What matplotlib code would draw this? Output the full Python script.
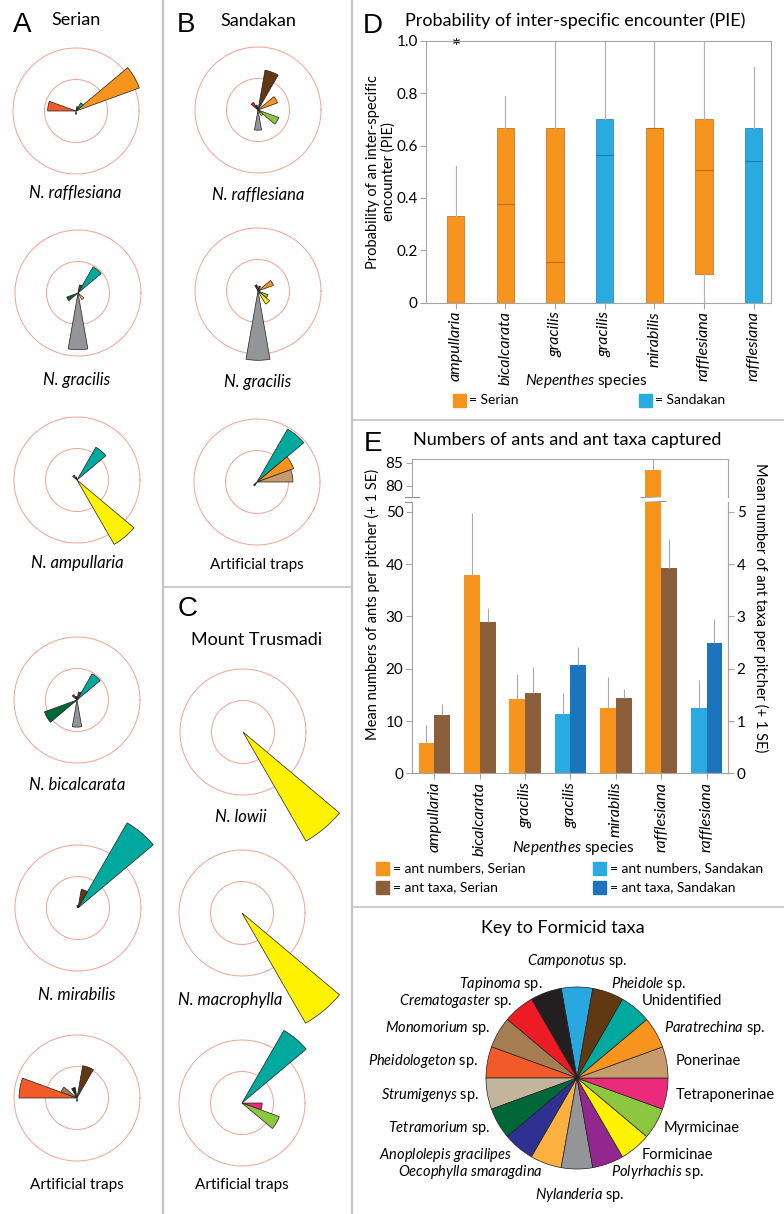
import numpy as np
import matplotlib
matplotlib.use('Agg')
import matplotlib.pyplot as plt
from matplotlib.patches import Rectangle

plt.rcParams['font.family'] = ['Lato', 'DejaVu Sans']
plt.rcParams['mathtext.fontset'] = 'custom'
plt.rcParams['mathtext.rm'] = 'Lato'
plt.rcParams['mathtext.it'] = 'Lato:italic'

W, H = 784, 1214

# ant taxa, in key order (counter-clockwise, starting at the top)
taxa = ['Camponotus', 'Tapinoma', 'Crematogaster', 'Monomorium', 'Pheidologeton',
        'Strumigenys', 'Tetramorium', 'Anoplolepis', 'Oecophylla', 'Nylanderia',
        'Polyrhachis', 'Formicinae', 'Myrmicinae', 'Tetraponerinae', 'Ponerinae',
        'Paratrechina', 'Unidentified', 'Pheidole']
taxa_colors = ['#29a8e0', '#231f20', '#ed1c24', '#a67c52', '#f15a29',
               '#c2b59b', '#006838', '#2e3192', '#fbb040', '#939598',
               '#92278f', '#fff200', '#8dc63f', '#ec2a7b', '#c69c6d',
               '#f7941d', '#00a99d', '#603913']
key_labels = [r'$\mathit{Camponotus}$ sp.', r'$\mathit{Tapinoma}$ sp.',
              r'$\mathit{Crematogaster}$ sp.', r'$\mathit{Monomorium}$ sp.',
              r'$\mathit{Pheidologeton}$ sp.', r'$\mathit{Strumigenys}$ sp.',
              r'$\mathit{Tetramorium}$ sp.', r'$\mathit{Anoplolepis\ gracilipes}$',
              r'$\mathit{Oecophylla\ smaragdina}$', r'$\mathit{Nylanderia}$ sp.',
              r'$\mathit{Polyrhachis}$ sp.', 'Formicinae', 'Myrmicinae',
              'Tetraponerinae', 'Ponerinae', r'$\mathit{Paratrechina}$ sp.',
              'Unidentified', r'$\mathit{Pheidole}$ sp.']

# rose diagrams: wedge length per taxon (outer ring = 1, inner ring = 0.5)
serian_rafflesiana = {'Paratrechina': 1.07, 'Pheidologeton': 0.45, 'Unidentified': 0.15,
                      'Pheidole': 0.07, 'Nylanderia': 0.05}
serian_gracilis = {'Nylanderia': 0.90, 'Unidentified': 0.48, 'Tetramorium': 0.19,
                   'Formicinae': 0.12, 'Pheidole': 0.13}
serian_ampullaria = {'Formicinae': 1.18, 'Unidentified': 0.60, 'Crematogaster': 0.09,
                     'Tapinoma': 0.05}
serian_bicalcarata = {'Unidentified': 0.48, 'Tetramorium': 0.55, 'Nylanderia': 0.43,
                      'Pheidole': 0.13, 'Crematogaster': 0.10, 'Tapinoma': 0.06}
serian_mirabilis = {'Unidentified': 1.56, 'Pheidole': 0.30, 'Tapinoma': 0.04}
serian_traps = {'Pheidologeton': 0.92, 'Monomorium': 0.27, 'Tapinoma': 0.17,
                'Pheidole': 0.52, 'Nylanderia': 0.05}
sandakan_rafflesiana = {'Pheidole': 0.64, 'Paratrechina': 0.33, 'Myrmicinae': 0.35,
                        'Crematogaster': 0.14, 'Nylanderia': 0.32, 'Formicinae': 0.10,
                        'Tapinoma': 0.08}
sandakan_gracilis = {'Nylanderia': 1.10, 'Paratrechina': 0.26, 'Myrmicinae': 0.17,
                     'Formicinae': 0.24, 'Tapinoma': 0.10, 'Pheidole': 0.08}
sandakan_traps = {'Unidentified': 0.97, 'Paratrechina': 0.62, 'Ponerinae': 0.57,
                  'Anoplolepis': 0.07}
trusmadi_lowii = {'Formicinae': 2.00}
trusmadi_macrophylla = {'Formicinae': 2.02}
trusmadi_traps = {'Unidentified': 1.33, 'Tetraponerinae': 0.32, 'Myrmicinae': 0.63}

# panel D: PIE boxplots
species = ['ampullaria', 'bicalcarata', 'gracilis', 'gracilis', 'mirabilis',
           'rafflesiana', 'rafflesiana']
site = ['Serian', 'Serian', 'Serian', 'Sandakan', 'Serian', 'Serian', 'Sandakan']
pie_q1 = [0, 0, 0, 0, 0, 0.11, 0]
pie_med = [0, 0.375, 0.155, 0.563, 0.665, 0.505, 0.54]
pie_q3 = [0.33, 0.665, 0.665, 0.70, 0.665, 0.70, 0.665]
pie_whislo = [0, 0, 0, 0, 0, 0, 0]
pie_whishi = [0.52, 0.79, 1.0, 1.0, 1.0, 1.0, 0.90]
pie_fliers = [[1.0], [], [], [], [], [], []]

# panel E: ants and ant taxa per pitcher
ant_numbers = [5.8, 38.0, 14.3, 11.3, 12.5, 83.3, 12.5]
ant_numbers_se = [3.4, 11.8, 4.7, 4.0, 5.9, 8.0, 5.3]
ant_taxa = [1.12, 2.89, 1.54, 2.07, 1.45, 3.93, 2.50]
ant_taxa_se = [0.21, 0.28, 0.50, 0.35, 0.16, 0.55, 0.46]

num_color = {'Serian': '#f7941d', 'Sandakan': '#29abe2'}
tax_color = {'Serian': '#8b5e3c', 'Sandakan': '#1c75bc'}
med_color = {'Serian': '#c06a12', 'Sandakan': '#1a7db0'}

fig = plt.figure(figsize=(W / 100, H / 100), dpi=100)


def px_axes(x0, y0, x1, y1, **kw):
    return fig.add_axes([x0 / W, 1 - y1 / H, (x1 - x0) / W, (y1 - y0) / H], **kw)


ov = px_axes(0, 0, W, H)
ov.set_xlim(0, W)
ov.set_ylim(H, 0)
ov.axis('off')

# panel dividers
grey = '#c4c4c4'
ov.plot([163, 163], [0, H], color=grey, lw=1.6)
ov.plot([352, 352], [0, H], color=grey, lw=1.6)
ov.plot([163, 352], [587, 587], color=grey, lw=1.2)
ov.plot([352, W], [420, 420], color=grey, lw=1.2)
ov.plot([352, W], [907, 907], color=grey, lw=1.2)

letter = dict(family=['Liberation Sans', 'DejaVu Sans'], fontsize=20, ha='center', va='center')
ov.text(22, 25, 'A', **letter)
ov.text(186, 25, 'B', **letter)
ov.text(188, 609, 'C', **letter)
ov.text(373, 26, 'D', **letter)
ov.text(373, 444, 'E', **letter)

ov.text(76, 20, 'Serian', fontsize=13, ha='center', va='center')
ov.text(258, 21, 'Sandakan', fontsize=13, ha='center', va='center')
ov.text(257, 640, 'Mount Trusmadi', fontsize=13, ha='center', va='center')

RING = 63.0
RMAX = 2.2


def rose(cx, cy, lengths, label, lx=None, ly=None, italic=True):
    half = RMAX * RING
    ax = px_axes(cx - half, cy - half, cx + half, cy + half, projection='polar')
    ax.set_axis_off()
    ax.set_ylim(0, RMAX)
    t = np.linspace(0, 2 * np.pi, 361)
    for ring in (0.5, 1.0):
        ax.plot(t, np.full_like(t, ring), color='#f4a291', lw=0.7, zorder=1)
    names = list(lengths)
    idx = [taxa.index(n) for n in names]
    theta = np.deg2rad([90 + 20 * i for i in idx])
    ax.bar(theta, [lengths[n] for n in names], width=np.deg2rad(20), bottom=0,
           color=[taxa_colors[i] for i in idx], edgecolor='#231f20', linewidth=0.5,
           zorder=3)
    if italic:
        ov.text(cx if lx is None else lx, ly, label, fontsize=12, ha='center',
                va='center', style='italic')
    else:
        ov.text(cx if lx is None else lx, ly, label, fontsize=11, ha='center',
                va='center')


rose(76, 111, serian_rafflesiana, 'N. rafflesiana', 75, 193)
rose(78, 293, serian_gracilis, 'N. gracilis', 77, 380)
rose(77, 480, serian_ampullaria, 'N. ampullaria', 77, 563)
rose(77, 700, serian_bicalcarata, 'N. bicalcarata', 77, 785)
rose(78, 908, serian_mirabilis, 'N. mirabilis', 77, 995)
rose(77, 1098, serian_traps, 'Artificial traps', 77, 1185, italic=False)
rose(258, 110, sandakan_rafflesiana, 'N. rafflesiana', 258, 195)
rose(258, 291, sandakan_gracilis, 'N. gracilis', 258, 382)
rose(257, 482, sandakan_traps, 'Artificial traps', 257, 565, italic=False)
rose(243, 732, trusmadi_lowii, 'N. lowii', 241, 817)
rose(242, 913, trusmadi_macrophylla, 'N. macrophylla', 230, 1000)
rose(242, 1103, trusmadi_traps, 'Artificial traps', 242, 1185, italic=False)

spine_c = '#a6a6a6'


def style_axes(ax):
    for s in ax.spines.values():
        s.set_color(spine_c)
        s.set_linewidth(0.8)
    ax.tick_params(direction='out', length=4, width=0.8, color=spine_c, labelsize=11, pad=2)


# ---- panel D
ov.text(575, 21, 'Probability of inter-specific encounter (PIE)', fontsize=13, ha='center', va='center')
ax_d = px_axes(426, 40.7, 771, 302.7)
stats = []
for i in range(len(species)):
    stats.append(dict(q1=pie_q1[i], med=pie_med[i], q3=pie_q3[i], whislo=pie_whislo[i],
                      whishi=pie_whishi[i], fliers=pie_fliers[i]))
pos = np.arange(1, len(species) + 1)
bp = ax_d.bxp(stats, positions=pos, widths=0.35, patch_artist=True, showcaps=False,
              whiskerprops=dict(color='#b3b3b3', lw=0.9),
              flierprops=dict(marker=(6, 2, 0), markersize=5, markeredgecolor='#231f20',
                              markeredgewidth=0.6))
for box, med, s in zip(bp['boxes'], bp['medians'], site):
    box.set_facecolor(num_color[s])
    box.set_edgecolor(med_color[s])
    box.set_linewidth(0.5)
    med.set_color(med_color[s])
    med.set_linewidth(0.8)
for fl in bp['fliers']:
    fl.set_clip_on(False)
ax_d.set_xlim(0.4, 7.35)
ax_d.set_ylim(0, 1.0)
ax_d.set_yticks([0, 0.2, 0.4, 0.6, 0.8, 1.0])
ax_d.set_yticklabels(['0', '0.2', '0.4', '0.6', '0.8', '1.0'])
ax_d.set_xticks(pos)
style_axes(ax_d)
ax_d.set_xticklabels(species, rotation=90, style='italic', fontsize=11.5)
ov.text(381, 172, 'Probability of an inter-specific\nencounter (PIE)', rotation=90,
        fontsize=10.5, ha='center', va='center', linespacing=1.1)
ov.text(586, 381, r'$\mathit{Nepenthes}$ species', fontsize=11, ha='center', va='center')
ov.add_patch(Rectangle((453, 394), 13, 13, color=num_color['Serian']))
ov.text(469, 400.5, '= Serian', fontsize=10, ha='left', va='center')
ov.add_patch(Rectangle((639, 394), 13, 13, color=num_color['Sandakan']))
ov.text(655, 400.5, '= Sandakan', fontsize=10, ha='left', va='center')

# ---- panel E
ov.text(567, 440, 'Numbers of ants and ant taxa captured', fontsize=13, ha='center', va='center')
x = np.arange(len(species))
w = 0.35
ncol = [num_color[s] for s in site]
tcol = [tax_color[s] for s in site]
err_kw = dict(fmt='none', ecolor='#a9a9a9', elinewidth=0.8, capsize=0)

ax_lo = px_axes(411.7, 502, 728.3, 773.3)
ax_lo.bar(x - w / 2, ant_numbers, w, color=ncol)
ax_lo.errorbar(x - w / 2, ant_numbers, yerr=[np.zeros(len(x)), ant_numbers_se], **err_kw)
ax_lo.set_xlim(-0.5, 6.48)
ax_lo.set_ylim(0, 51.9)
ax_lo.set_yticks([0, 10, 20, 30, 40, 50])
ax_lo.set_xticks(x)
style_axes(ax_lo)
ax_lo.set_xticklabels(species, rotation=90, style='italic', fontsize=11.5)
ax_lo.spines['top'].set_visible(False)

ax_tx = ax_lo.twinx()
ax_tx.bar(x + w / 2, ant_taxa, w, color=tcol)
ax_tx.errorbar(x + w / 2, ant_taxa, yerr=[np.zeros(len(x)), ant_taxa_se], **err_kw)
ax_tx.set_ylim(0, 5.19)
ax_tx.set_yticks([0, 1, 2, 3, 4, 5])
style_axes(ax_tx)
ax_tx.spines['top'].set_visible(False)

ax_hi = px_axes(411.7, 459.3, 728.3, 497)
ax_hi.bar(x - w / 2, ant_numbers, w, color=ncol)
ax_hi.errorbar(x - w / 2, ant_numbers, yerr=[np.zeros(len(x)), ant_numbers_se], **err_kw)
ax_hi.set_xlim(-0.5, 6.48)
ax_hi.set_ylim(77.6, 85.7)
ax_hi.set_yticks([80, 85])
ax_hi.set_xticks([])
style_axes(ax_hi)
ax_hi.spines['bottom'].set_visible(False)

# axis break marks
for yb in (497, 502):
    ov.plot([405, 419], [yb, yb], color='#8c8c8c', lw=0.8)
    ov.plot([641, 666], [yb + 0.5, yb - 0.5], color='#8c8c8c', lw=0.8)

ov.text(372, 604, 'Mean numbers of ants per pitcher (+ 1 SE)', rotation=90,
        fontsize=10.5, ha='center', va='center')
ov.text(761, 608, 'Mean number of ant taxa per pitcher (+ 1 SE)', rotation=270,
        fontsize=10.5, ha='center', va='center')
ov.text(573, 848, r'$\mathit{Nepenthes}$ species', fontsize=11, ha='center', va='center')

legend_e = [(376, 862, num_color['Serian'], '= ant numbers, Serian'),
            (376, 881, tax_color['Serian'], '= ant taxa, Serian'),
            (593, 862, num_color['Sandakan'], '= ant numbers, Sandakan'),
            (593, 881, tax_color['Sandakan'], '= ant taxa, Sandakan')]
for lx, ly, c, txt in legend_e:
    ov.add_patch(Rectangle((lx, ly), 13, 13, color=c))
    ov.text(lx + 17, ly + 6.5, txt, fontsize=10, ha='left', va='center')

# ---- key pie
ov.text(563, 928, 'Key to Formicid taxa', fontsize=13, ha='center', va='center')
pr = 91 * 1.25
ax_k = px_axes(577 - pr, 1078 - pr, 577 + pr, 1078 + pr)
wedges, texts = ax_k.pie(np.ones(len(taxa)), colors=taxa_colors, startangle=80,
                         counterclock=True, labels=key_labels, labeldistance=1.1,
                         wedgeprops=dict(edgecolor='#231f20', linewidth=0.5),
                         textprops=dict(fontsize=10.5))
texts[0].set_position((0, 1.19))
texts[0].set_ha('center')
texts[0].set_va('bottom')
texts[9].set_position((0.03, -1.19))
texts[9].set_ha('center')
texts[9].set_va('top')

fig.savefig('out.png', dpi=100)
